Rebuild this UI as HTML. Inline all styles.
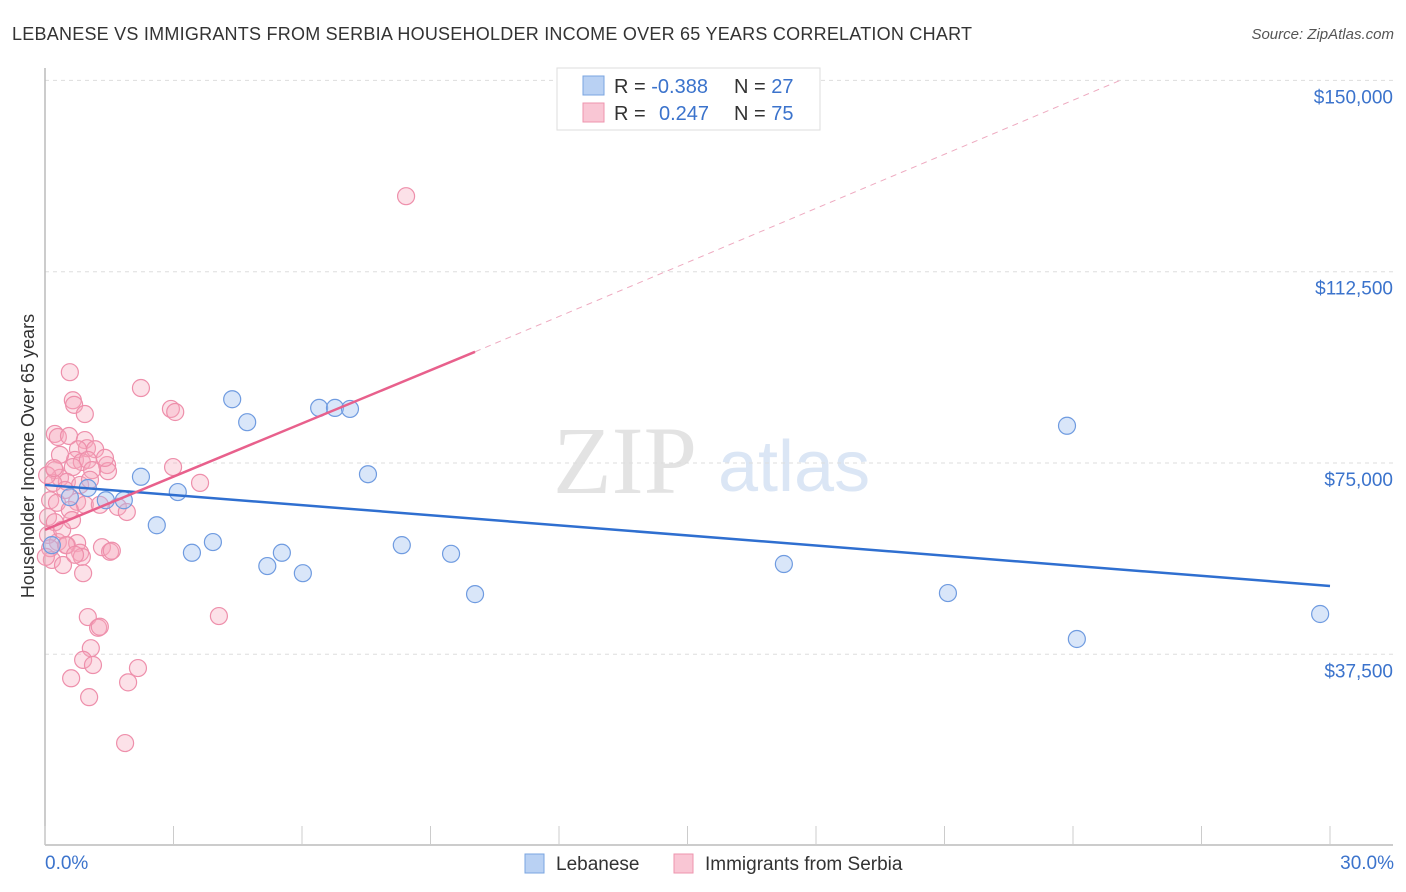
<!DOCTYPE html>
<html><head><meta charset="utf-8"><style>
body{margin:0;background:#fff;font-family:"Liberation Sans",sans-serif;}
svg{display:block}
</style></head><body>
<svg id="chart" width="1406" height="892">
<text x="12" y="40" font-size="18" fill="#333" textLength="960">LEBANESE VS IMMIGRANTS FROM SERBIA HOUSEHOLDER INCOME OVER 65 YEARS CORRELATION CHART</text>
<text x="1394" y="39" font-size="15" fill="#555" font-style="italic" text-anchor="end">Source: ZipAtlas.com</text>
<text x="553" y="493" font-size="96" fill="#e3e3e3" font-family="Liberation Serif">ZIP</text>
<text x="718" y="491" font-size="72" fill="#dbe6f5">atlas</text>
<text transform="translate(34,456) rotate(-90)" font-size="18" fill="#333" text-anchor="middle">Householder Income Over 65 years</text>
<g id="grid"></g><g id="axes"></g><g id="pts"></g><g id="trends"></g>
<g>
<rect x="557" y="68" width="263" height="62" fill="#fff" stroke="#ddd"/>
<rect x="583" y="76" width="21" height="19" fill="#b9d1f3" stroke="#7aa5e0"/>
<rect x="583" y="103" width="21" height="19" fill="#f9c6d4" stroke="#ee94ae"/>
<text x="614" y="93" font-size="20" fill="#333">R = <tspan fill="#3b73cc">-0.388</tspan><tspan x="734">N = </tspan><tspan fill="#3b73cc">27</tspan></text>
<text x="614" y="120" font-size="20" fill="#333">R = <tspan x="659" fill="#3b73cc">0.247</tspan><tspan x="734">N = </tspan><tspan fill="#3b73cc">75</tspan></text>
</g>
<g>
<rect x="525" y="854" width="19" height="19" fill="#b9d1f3" stroke="#7aa5e0"/>
<text x="556" y="870" font-size="19" fill="#333">Lebanese</text>
<rect x="674" y="854" width="19" height="19" fill="#f9c6d4" stroke="#ee94ae"/>
<text x="705" y="870" font-size="19" fill="#333">Immigrants from Serbia</text>
</g>
</svg>
<script>
const yTicks=[37500,75000,112500,150000];
const yTickLabels=["$37,500","$75,000","$112,500","$150,000"];
const xTicks=[0,3,6,9,12,15,18,21,24,27,30];
const xEndLabels=["0.0%","30.0%"];
const lebX=[0.16,0.58,1.0,1.42,1.84,2.24,2.61,3.1,3.43,3.92,4.37,4.72,5.19,5.53,6.02,6.40,6.77,7.12,7.54,8.33,9.48,10.04,17.25,21.08,23.86,24.09,29.77];
const lebY=[58900,68300,70100,67700,67700,72300,62800,69300,57400,59500,87500,83000,54800,57400,53400,85800,85800,85600,72800,58900,57200,49300,55200,49500,82300,40500,45400];
const serX=[0.58,0.65,0.68,0.93,2.24,2.94,3.04,0.23,0.30,0.56,0.93,0.98,1.17,0.77,0.70,0.86,1.00,0.65,1.45,1.47,0.23,0.35,0.51,0.19,2.99,3.62,0.12,0.28,0.75,0.93,1.70,1.91,0.07,0.23,0.30,0.51,0.75,0.82,0.86,1.33,1.52,1.56,0.16,0.42,0.89,1.00,1.24,1.28,1.07,0.89,1.12,0.61,2.17,1.94,1.03,1.87,8.43,4.06,0.07,0.12,0.02,0.40,0.58,0.47,0.82,1.10,0.05,0.35,1.28,0.63,1.05,0.49,0.21,1.40,0.70];
const serY=[92800,87300,86400,84600,89700,85600,85000,80700,80100,80300,79500,77900,77700,77700,75600,75200,75600,74200,74600,73400,73600,72100,71300,71100,74200,71100,67700,67200,67400,66800,66400,65400,64400,63400,59500,58900,59300,57400,56600,58500,57600,57800,56000,55000,53400,44800,42700,42900,38700,36400,35400,32800,34800,32000,29100,20100,127300,45000,60900,58300,56600,61900,65800,69700,70700,73600,72600,76600,66800,63800,71700,58900,74000,76000,57000];
const lebTrend=[[0,70700],[30,50900]];
const serTrend=[[0,61900],[10.04,96800]];
const serTrendExt=[[10.04,96800],[25.1,150000]];

const NS="http://www.w3.org/2000/svg";
const X=v=>45+v/30*1285;
const Y=v=>463-(v-75000)*191.3/37500;
function mk(tag,attrs,parent){const e=document.createElementNS(NS,tag);for(const k in attrs)e.setAttribute(k,attrs[k]);document.getElementById(parent).appendChild(e);return e;}
yTicks.forEach((t,i)=>{
  const l=mk('line',{x1:45,x2:1393,y1:Y(t),y2:Y(t),stroke:'#ddd','stroke-dasharray':'4,4'},'grid');
  
  
  const tx=mk('text',{x:1393,y:Y(t)+23,'font-size':19,fill:'#3b73cc','text-anchor':'end'},'grid');
  tx.textContent=yTickLabels[i];
  
  
});
const ax=mk('line',{x1:45,x2:1393,y1:845,y2:845,stroke:'#bbb','stroke-width':1.5},'axes');


const ay=mk('line',{x1:45,x2:45,y1:68,y2:845,stroke:'#bbb','stroke-width':1.5},'axes');


xTicks.forEach(t=>{
  const l=mk('line',{x1:X(t),x2:X(t),y1:826,y2:845,stroke:'#ccc'},'axes');
  
  
});
const xl0=mk('text',{x:45,y:869,'font-size':19,fill:'#3b73cc'},'axes');
xl0.textContent=xEndLabels[0];


const xl1=mk('text',{x:1394,y:869,'font-size':19,fill:'#3b73cc','text-anchor':'end'},'axes');
xl1.textContent=xEndLabels[1];


serX.forEach((x,i)=>{
  const c=mk('circle',{cx:X(x),cy:Y(serY[i]),r:8.5,fill:'rgba(246,168,190,0.35)',stroke:'#ee8fab','stroke-width':1.2},'pts');
  
  
});
lebX.forEach((x,i)=>{
  const c=mk('circle',{cx:X(x),cy:Y(lebY[i]),r:8.5,fill:'rgba(160,193,240,0.4)',stroke:'#6f9be0','stroke-width':1.2},'pts');
  
  
});
const t1=mk('line',{x1:X(lebTrend[0][0]),y1:Y(lebTrend[0][1]),x2:X(lebTrend[1][0]),y2:Y(lebTrend[1][1]),stroke:'#2f6fd0','stroke-width':2.5},'trends');


const t2=mk('line',{x1:X(serTrend[0][0]),y1:Y(serTrend[0][1]),x2:X(serTrend[1][0]),y2:Y(serTrend[1][1]),stroke:'#e8608c','stroke-width':2.5},'trends');


const t3=mk('line',{x1:X(serTrendExt[0][0]),y1:Y(serTrendExt[0][1]),x2:X(serTrendExt[1][0]),y2:Y(serTrendExt[1][1]),stroke:'#eeaac0','stroke-width':1,'stroke-dasharray':'6,5'},'trends');


</script>
</body></html>
